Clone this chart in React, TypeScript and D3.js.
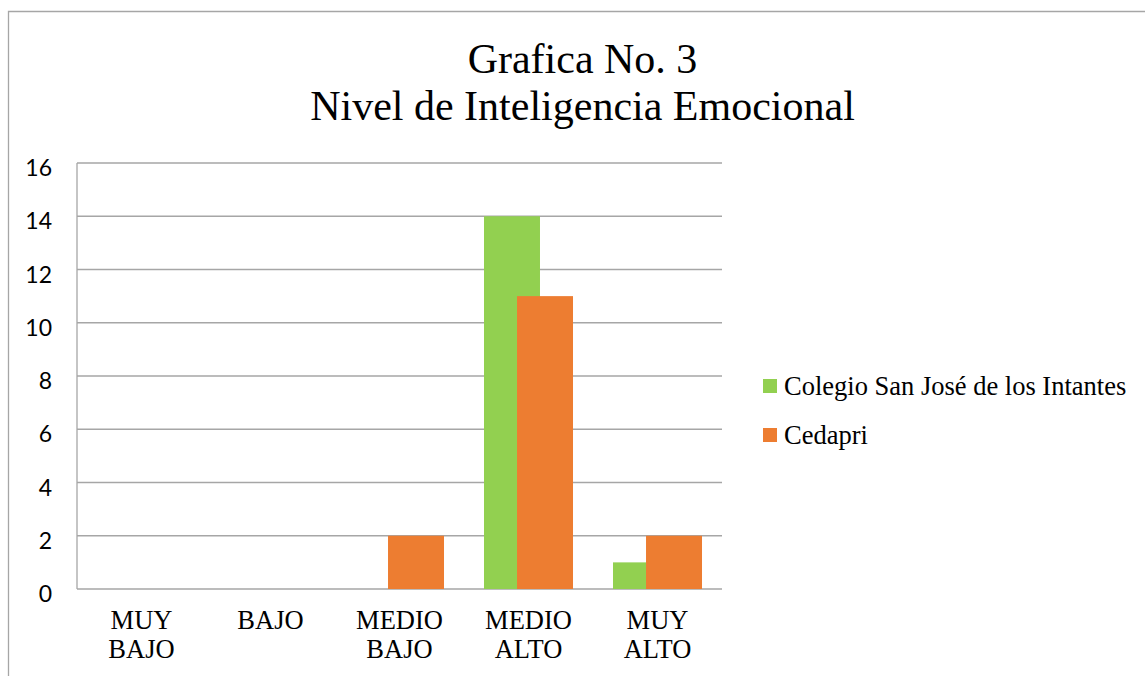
import React from "react";
import * as d3 from "d3";

const categories = [["MUY", "BAJO"], ["BAJO"], ["MEDIO", "BAJO"], ["MEDIO", "ALTO"], ["MUY", "ALTO"]];
const colegio = [0, 0, 0, 14, 1];
const cedapri = [0, 0, 2, 11, 2];
const seriesNames = ["Colegio San José de los Intantes", "Cedapri"];
const colors = ["#92d050", "#ed7d31"];
const yTicks = [0, 2, 4, 6, 8, 10, 12, 14, 16];

const W = 1145;
const H = 676;
const plot = { left: 77, right: 722, top: 163, bottom: 589 };

export default function App() {
  const x = d3
    .scaleBand<number>()
    .domain(categories.map((_, i) => i))
    .range([plot.left, plot.right]);
  const y = d3.scaleLinear().domain([0, 16]).range([plot.bottom, plot.top]);

  const band = x.bandwidth();
  const barW = band * 0.434;
  const shift = band * 0.128;
  const series = [colegio, cedapri];

  return (
    <svg width={W} height={H} style={{ position: "absolute", left: 0, top: 0, background: "#fff" }}>
      {/* outer frame */}
      <path d={`M8.5,${H} V11.5 H${W}`} fill="none" stroke="#a6a6a6" strokeWidth={1.3} />

      {/* title */}
      <text x={582.5} y={73} textAnchor="middle" fontFamily="Liberation Serif" fontSize={42} fill="#000">
        Grafica No. 3
      </text>
      <text x={582.5} y={120} textAnchor="middle" fontFamily="Liberation Serif" fontSize={42} fill="#000">
        Nivel de Inteligencia Emocional
      </text>

      {/* gridlines */}
      {yTicks.map(t => (
        <line key={t} x1={plot.left} x2={plot.right} y1={y(t)} y2={y(t)} stroke="#a6a6a6" strokeWidth={1.3} />
      ))}
      <line x1={plot.left} x2={plot.left} y1={plot.top} y2={plot.bottom} stroke="#a6a6a6" strokeWidth={1.3} />

      {/* y tick labels */}
      {yTicks.map(t => (
        <text key={t} x={52} y={y(t) + 13} textAnchor="end" fontFamily="Lato" fontSize={23} fill="#000">
          {t}
        </text>
      ))}

      {/* bars */}
      {series.map((vals, s) =>
        vals.map((v, i) => {
          const cx = (x(i) as number) + band / 2 + (s === 0 ? -shift : shift);
          return v > 0 ? (
            <rect key={`${s}-${i}`} x={cx - barW / 2} y={y(v)} width={barW} height={y(0) - y(v)} fill={colors[s]} />
          ) : null;
        })
      )}

      {/* x labels */}
      {categories.map((lines, i) => (
        <text key={i} textAnchor="middle" fontFamily="Liberation Serif" fontSize={26.5} fill="#000">
          {lines.map((l, j) => (
            <tspan key={j} x={(x(i) as number) + band / 2} y={629 + j * 29}>
              {l}
            </tspan>
          ))}
        </text>
      ))}

      {/* legend */}
      {seriesNames.map((n, s) => (
        <g key={n}>
          <rect x={763} y={379 + s * 49} width={14} height={14} fill={colors[s]} />
          <text x={784} y={395 + s * 49} fontFamily="Liberation Serif" fontSize={26.5} fill="#000">
            {n}
          </text>
        </g>
      ))}
    </svg>
  );
}
